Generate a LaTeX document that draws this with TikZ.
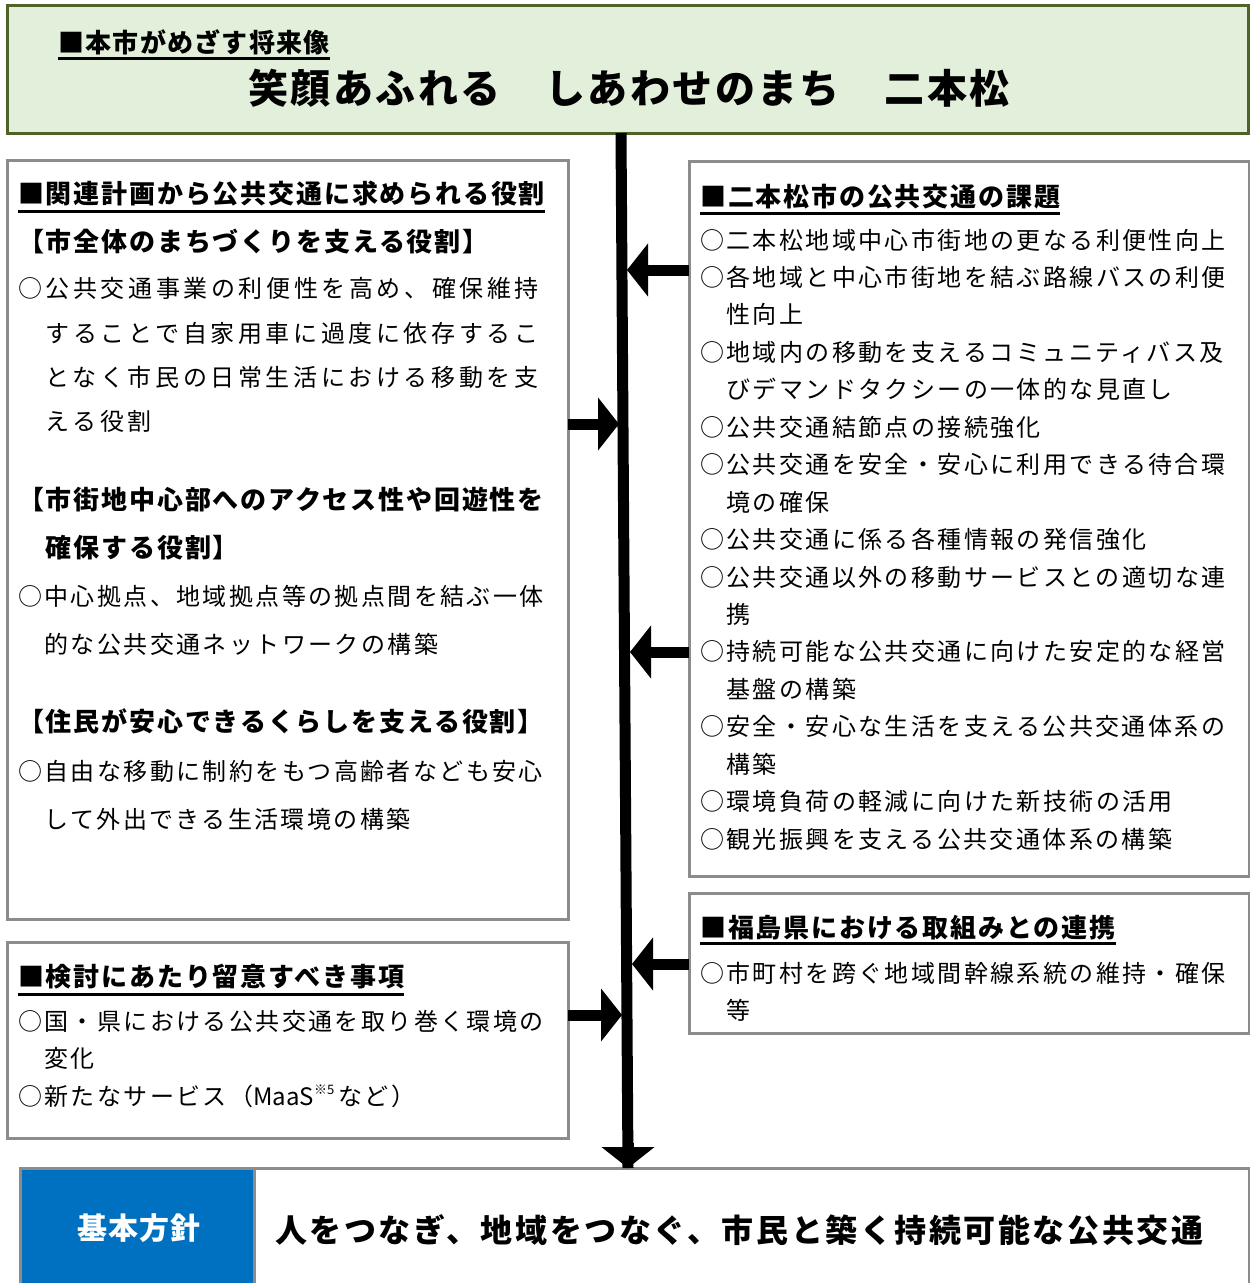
\documentclass[tikz,border=0pt]{standalone}
\usepackage{fontspec}
\setmainfont[LetterSpace=10]{Noto Sans CJK JP}
\usepackage{tikz}
\usetikzlibrary{arrows.meta}
\definecolor{vis}{HTML}{E2EFDA}
\definecolor{visline}{HTML}{4F6228}
\definecolor{frm}{HTML}{8C8C8C}
\definecolor{blu}{HTML}{0070C0}

\begin{document}
\begin{tikzpicture}[x=1pt, y=-1pt,
frame/.style={draw=frm, line width=3pt, anchor=north west, inner sep=0, outer sep=0},
txt/.style={anchor=west, inner sep=0, text height=21pt, text depth=3pt, font=\fontsize{24}{24}\selectfont},
widetxt/.style={txt, font=\fontsize{24}{24}\selectfont\addfontfeature{LetterSpace=15}},
hd/.style={anchor=west, inner sep=0, text height=23pt, text depth=3.5pt, font=\fontsize{26}{26}\selectfont\bfseries\addfontfeature{LetterSpace=7}},
uline/.style={line width=2.5pt},
bigarrow/.style={line width=11pt, -{Triangle[width=52pt, length=21pt]}}]
\useasboundingbox (0,0) rectangle (1250,1283);

\node[frame, draw=visline, fill=vis, minimum width=1241pt, minimum height=128pt] (vision) at (7,5) {};
\node[hd, font=\fontsize{26}{26}\selectfont\bfseries\addfontfeature{LetterSpace=5}] (visionhd) at (58,43) {■本市がめざす将来像};
\draw[uline] ([yshift=-2pt]visionhd.south west) -- ([yshift=-2pt]visionhd.south east);
\node[inner sep=0, text height=35pt, text depth=5pt, font=\fontsize{40}{40}\selectfont\bfseries\addfontfeature{LetterSpace=6}] (motto) at (629,88) {笑顔あふれる　しあわせのまち　二本松};

\node[frame, minimum width=561pt, minimum height=759pt] (role) at (7,160) {};
\node[frame, minimum width=561pt, minimum height=196pt] (note) at (7,942) {};
\node[frame, minimum width=560pt, minimum height=715pt] (issues) at (689,161) {};
\node[frame, minimum width=560pt, minimum height=140pt] (pref) at (689,893) {};
\node[frame, minimum width=1229pt, minimum height=127pt] (policy) at (20,1168) {};
\node[frame, fill=blu, minimum width=234pt, minimum height=127pt] (label) at (20,1168) {};

\foreach \y/\t [count=\i] in {194/■関連計画から公共交通に求められる役割, 242/【市全体のまちづくりを支える役割】, 500/【市街地中心部へのアクセス性や回遊性を, 548/　確保する役割】, 722/【住民が安心できるくらしを支える役割】}
\node[hd] (rolehd\i) at (18,\y) {\t};
\draw[uline] ([yshift=-4pt]rolehd1.south west) -- ([yshift=-4pt]rolehd1.south east);
\foreach \y/\t [count=\i] in {288/○公共交通事業の利便性を高め、確保維持, 333/　することで自家用車に過度に依存するこ, 377/　となく市民の日常生活における移動を支, 421/　える役割}
\node[widetxt] (role\i) at (18,\y) {\t};
\foreach \y/\t [count=\i from 5] in {596/○中心拠点、地域拠点等の拠点間を結ぶ一体, 644/　的な公共交通ネットワークの構築, 771/○自由な移動に制約をもつ高齢者なども安心, 819/　して外出できる生活環境の構築}
\node[txt] (role\i) at (18,\y) {\t};

\node[hd] (notehd) at (18,977) {■検討にあたり留意すべき事項};
\draw[uline] ([yshift=-4pt]notehd.south west) -- ([yshift=-4pt]notehd.south east);
\node[txt] (note1) at (18,1021) {○国・県における公共交通を取り巻く環境の};
\node[txt] (note2) at (18,1058) {　変化};
\node[txt] (note3) at (18,1096) {○新たなサービス（{\addfontfeature{LetterSpace=0}MaaS\raisebox{0.45em}{\fontsize{13}{13}\selectfont ※5}}\,など）};

\node[hd] (issueshd) at (700,197) {■二本松市の公共交通の課題};
\draw[uline] ([yshift=-3pt]issueshd.south west) -- ([yshift=-3pt]issueshd.south east);
\foreach \t [count=\i] in {○二本松地域中心市街地の更なる利便性向上, ○各地域と中心市街地を結ぶ路線バスの利便, 　性向上, ○地域内の移動を支えるコミュニティバス及, 　びデマンドタクシーの一体的な見直し, ○公共交通結節点の接続強化, ○公共交通を安全・安心に利用できる待合環, 　境の確保, ○公共交通に係る各種情報の発信強化, ○公共交通以外の移動サービスとの適切な連, 　携, ○持続可能な公共交通に向けた安定的な経営, 　基盤の構築, ○安全・安心な生活を支える公共交通体系の, 　構築, ○環境負荷の軽減に向けた新技術の活用, ○観光振興を支える公共交通体系の構築}
\node[txt] (issue\i) at (700,{240+37.45*(\i-1)}) {\t};

\node[hd] (prefhd) at (700,928) {■福島県における取組みとの連携};
\draw[uline] ([yshift=-2pt]prefhd.south west) -- ([yshift=-2pt]prefhd.south east);
\node[txt] (pref1) at (700,973) {○市町村を跨ぐ地域間幹線系統の維持・確保};
\node[txt] (pref2) at (700,1010) {　等};

\node[inner sep=0, text height=26pt, text depth=4pt, text=white, font=\fontsize{30}{30}\selectfont\bfseries\addfontfeature{LetterSpace=4}] (labeltxt) at (139,1228) {基本方針};
\node[txt, text height=28pt, text depth=4pt, font=\fontsize{32}{32}\selectfont\bfseries\addfontfeature{LetterSpace=8}] (policytxt) at (275,1230) {人をつなぎ、地域をつなぐ、市民と築く持続可能な公共交通};

\coordinate (trunktop) at (621,133);
\coordinate (trunkend) at (628,1168);
\coordinate (j1) at (627,270);
\coordinate (j2) at (619,424);
\coordinate (j3) at (630,652);
\coordinate (j4) at (632,964);
\coordinate (j5) at (622,1015);
\draw[line width=11pt] (vision.south -| trunktop) -- (trunkend);
\draw[bigarrow] ([yshift=25pt]trunkend) -- (policy.north -| trunkend);
\draw[bigarrow] (issues.west |- j1) -- (j1);
\draw[bigarrow] (role.east |- j2) -- (j2);
\draw[bigarrow] (issues.west |- j3) -- (j3);
\draw[bigarrow] (pref.west |- j4) -- (j4);
\draw[bigarrow] (note.east |- j5) -- (j5);
\end{tikzpicture}
\end{document}
